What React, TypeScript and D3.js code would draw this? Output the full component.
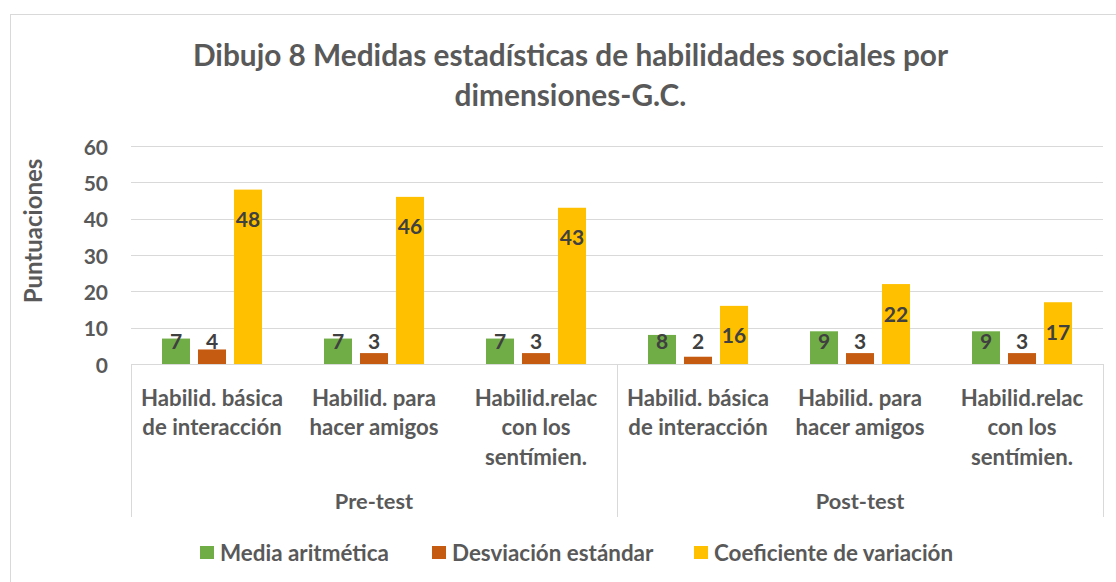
import React from 'react';
import * as d3 from 'd3';

// ---------- data ----------
const groups = ['Pre-test', 'Post-test'];
const categoryLabels = [
  ['Habilid. básica', 'de interacción'],
  ['Habilid. para', 'hacer amigos'],
  ['Habilid.relac', 'con los', 'sentímien.'],
  ['Habilid. básica', 'de interacción'],
  ['Habilid. para', 'hacer amigos'],
  ['Habilid.relac', 'con los', 'sentímien.'],
];
const seriesNames = ['Media aritmética', 'Desviación estándar', 'Coeficiente de variación'];
const mediaAritmetica = [7, 7, 7, 8, 9, 9];
const desviacionEstandar = [4, 3, 3, 2, 3, 3];
const coeficienteVariacion = [48, 46, 43, 16, 22, 17];
const yTicks = [0, 10, 20, 30, 40, 50, 60];
const titleLines = ['Dibujo 8 Medidas estadísticas de habilidades sociales por', 'dimensiones-G.C.'];
const yAxisTitle = 'Puntuaciones';

// ---------- style ----------
const seriesColors = ['#70AD47', '#C55A11', '#FFC000'];
const FONT = 'Lato, "Open Sans", sans-serif';
const W = 1116;
const H = 582;
const plot = { left: 131, right: 1103, top: 146, bottom: 364 };

export default function App() {
  const series = [mediaAritmetica, desviacionEstandar, coeficienteVariacion];
  const idx = d3.range(categoryLabels.length);

  const x = d3.scaleBand<number>().domain(idx).range([plot.left, plot.right]).padding(0);
  const y = d3.scaleLinear().domain([0, 60]).range([plot.bottom, plot.top]);
  const inner = d3
    .scaleBand<number>()
    .domain([0, 1, 2])
    .range([-50, 50])
    .paddingInner(0.222)
    .paddingOuter(0);

  const groupX = d3.scaleBand<number>().domain([0, 1]).range([plot.left, plot.right]).padding(0);

  const legendX = [200, 432, 694];

  return (
    <svg
      width={W}
      height={H}
      style={{ position: 'absolute', left: 0, top: 0, background: '#fff' }}
      fontFamily={FONT}
    >
      <rect x={0} y={0} width={W} height={H} fill="#fff" />
      {/* chart border */}
      <rect x={10.5} y={14.5} width={W + 20} height={H + 20} fill="none" stroke="#D9D9D9" strokeWidth={1} />

      {/* title */}
      {titleLines.map((t, i) => (
        <text
          key={i}
          x={570.5}
          y={66 + i * 40}
          textAnchor="middle"
          fontSize={29.8}
          fontWeight="bold"
          fill="#595959"
        >
          {t}
        </text>
      ))}

      {/* gridlines */}
      {yTicks
        .filter((t) => t > 0)
        .map((t) => (
          <line
            key={t}
            x1={plot.left}
            x2={plot.right}
            y1={Math.round(y(t)) + 0.5}
            y2={Math.round(y(t)) + 0.5}
            stroke="#D9D9D9"
            strokeWidth={1}
          />
        ))}

      {/* y tick labels */}
      {yTicks.map((t) => (
        <text
          key={t}
          x={108}
          y={y(t)}
          textAnchor="end"
          dominantBaseline="central"
          fontSize={21}
          fontWeight="bold"
          fill="#595959"
        >
          {t}
        </text>
      ))}

      {/* y axis title */}
      <text
        transform={`translate(32,231) rotate(-90)`}
        textAnchor="middle"
        dominantBaseline="central"
        fontSize={24}
        fontWeight="bold"
        fill="#595959"
      >
        {yAxisTitle}
      </text>

      {/* bars */}
      {series.map((vals, s) =>
        vals.map((v, i) => {
          const cx = x(i)! + x.bandwidth() / 2;
          const bx = cx + inner(s)!;
          return (
            <rect
              key={`${s}-${i}`}
              x={bx}
              y={y(v)}
              width={inner.bandwidth()}
              height={y(0) - y(v)}
              fill={seriesColors[s]}
            />
          );
        })
      )}

      {/* data labels */}
      {series.map((vals, s) =>
        vals.map((v, i) => {
          const cx = x(i)! + x.bandwidth() / 2 + inner(s)! + inner.bandwidth() / 2;
          const ly = Math.min(y(v) + 29, y(0) - 24);
          return (
            <text
              key={`l${s}-${i}`}
              x={cx}
              y={ly}
              textAnchor="middle"
              dominantBaseline="central"
              fontSize={21}
              fontWeight="bold"
              fill="#404040"
            >
              {d3.format('d')(v)}
            </text>
          );
        })
      )}

      {/* category axis */}
      <line x1={plot.left} x2={plot.right} y1={plot.bottom + 0.5} y2={plot.bottom + 0.5} stroke="#D9D9D9" />
      {[0, 1, 2].map((k) => {
        const xx = k < 2 ? groupX(k)! : plot.right;
        return (
          <line
            key={k}
            x1={Math.round(xx) + 0.5}
            x2={Math.round(xx) + 0.5}
            y1={plot.bottom}
            y2={517}
            stroke="#D9D9D9"
          />
        );
      })}

      {categoryLabels.map((lines, i) => {
        const cx = x(i)! + x.bandwidth() / 2;
        return (
          <g key={i}>
            {lines.map((ln, j) => (
              <text
                key={j}
                x={cx}
                y={397 + j * 29.5}
                textAnchor="middle"
                dominantBaseline="central"
                fontSize={22.2}
                fontWeight="bold"
                fill="#595959"
              >
                {ln}
              </text>
            ))}
          </g>
        );
      })}

      {groups.map((g, k) => (
        <text
          key={g}
          x={groupX(k)! + groupX.bandwidth() / 2}
          y={500.5}
          textAnchor="middle"
          dominantBaseline="central"
          fontSize={21.8}
          fontWeight="bold"
          fill="#595959"
        >
          {g}
        </text>
      ))}

      {/* legend */}
      {seriesNames.map((n, s) => (
        <g key={n} transform={`translate(${legendX[s]},546)`}>
          <rect x={0} y={0} width={14} height={13} fill={seriesColors[s]} />
          <text x={20} y={6.5} dominantBaseline="central" fontSize={22.4} fontWeight="bold" fill="#595959">
            {n}
          </text>
        </g>
      ))}
    </svg>
  );
}
